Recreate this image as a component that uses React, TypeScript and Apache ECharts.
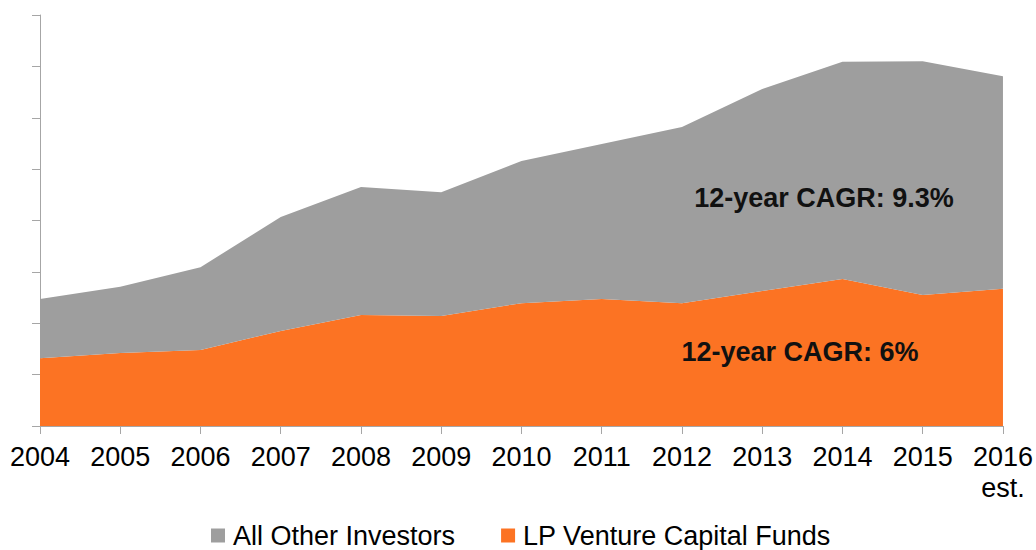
import React, { useEffect, useRef } from "react";
import * as echarts from "echarts";

const years = ["2004", "2005", "2006", "2007", "2008", "2009", "2010", "2011", "2012", "2013", "2014", "2015", "2016\nest."];
const lpVentureCapitalFunds = [1.32, 1.42, 1.48, 1.85, 2.16, 2.14, 2.39, 2.47, 2.39, 2.63, 2.86, 2.55, 2.67];
const allOtherInvestors = [1.15, 1.29, 1.61, 2.22, 2.49, 2.41, 2.77, 3.02, 3.43, 3.93, 4.23, 4.55, 4.14];
const annotations = ["12-year CAGR: 9.3%", "12-year CAGR: 6%"];
const seriesNames = ["All Other Investors", "LP Venture Capital Funds"];

const FONT = "'Liberation Sans', Arial, Helvetica, sans-serif";
const ORANGE = "#FC7323";
const GRAY = "#9E9E9E";
const AXIS = "#A6A6A6";

export default function App() {
  const ref = useRef<HTMLDivElement>(null);
  useEffect(() => {
    if (!ref.current) return;
    const chart = echarts.init(ref.current, null, { renderer: "svg" });
    chart.setOption({
      animation: false,
      backgroundColor: "#ffffff",
      textStyle: { fontFamily: FONT },
      grid: { left: 40, right: 32, top: 15, bottom: 124, containLabel: false },
      legend: {
        data: [seriesNames[0], seriesNames[1]],
        left: 211,
        top: 522,
        padding: 0,
        icon: "rect",
        itemWidth: 14,
        itemHeight: 14,
        itemGap: 46,
        textStyle: { fontSize: 27, color: "#000", fontFamily: FONT, padding: [0, 0, 0, 3] },
      },
      xAxis: {
        type: "category",
        boundaryGap: false,
        data: years,
        axisLine: { lineStyle: { color: AXIS, width: 1 } },
        axisTick: { show: true, length: 8, alignWithLabel: true, lineStyle: { color: AXIS } },
        axisLabel: { fontSize: 27, color: "#000", fontFamily: FONT, lineHeight: 31, margin: 15, interval: 0 },
        splitLine: { show: false },
      },
      yAxis: {
        type: "value",
        min: 0,
        max: 8,
        interval: 1,
        axisLine: { show: true, lineStyle: { color: AXIS, width: 1 } },
        axisTick: { show: true, length: 8, lineStyle: { color: AXIS } },
        axisLabel: { show: false },
        splitLine: { show: false },
      },
      series: [
        {
          name: seriesNames[1],
          type: "line",
          stack: "total",
          data: lpVentureCapitalFunds,
          symbol: "none",
          lineStyle: { width: 0 },
          itemStyle: { color: ORANGE },
          areaStyle: { color: ORANGE, opacity: 1 },
        },
        {
          name: seriesNames[0],
          type: "line",
          stack: "total",
          data: allOtherInvestors,
          symbol: "none",
          lineStyle: { width: 0 },
          itemStyle: { color: GRAY },
          areaStyle: { color: GRAY, opacity: 1 },
        },
      ],
      graphic: [
        {
          type: "text",
          x: 824,
          y: 198,
          z: 100,
          style: {
            text: annotations[0],
            fontSize: 27,
            fontWeight: "bold",
            fontFamily: FONT,
            fill: "#111",
            textAlign: "center",
            textVerticalAlign: "middle",
          },
        },
        {
          type: "text",
          x: 800,
          y: 352,
          z: 100,
          style: {
            text: annotations[1],
            fontSize: 27,
            fontWeight: "bold",
            fontFamily: FONT,
            fill: "#111",
            textAlign: "center",
            textVerticalAlign: "middle",
          },
        },
      ],
    });
    return () => chart.dispose();
  }, []);
  return (
    <div
      ref={ref}
      style={{ position: "fixed", left: 0, top: 0, width: 1036, height: 550, background: "#fff" }}
    />
  );
}
